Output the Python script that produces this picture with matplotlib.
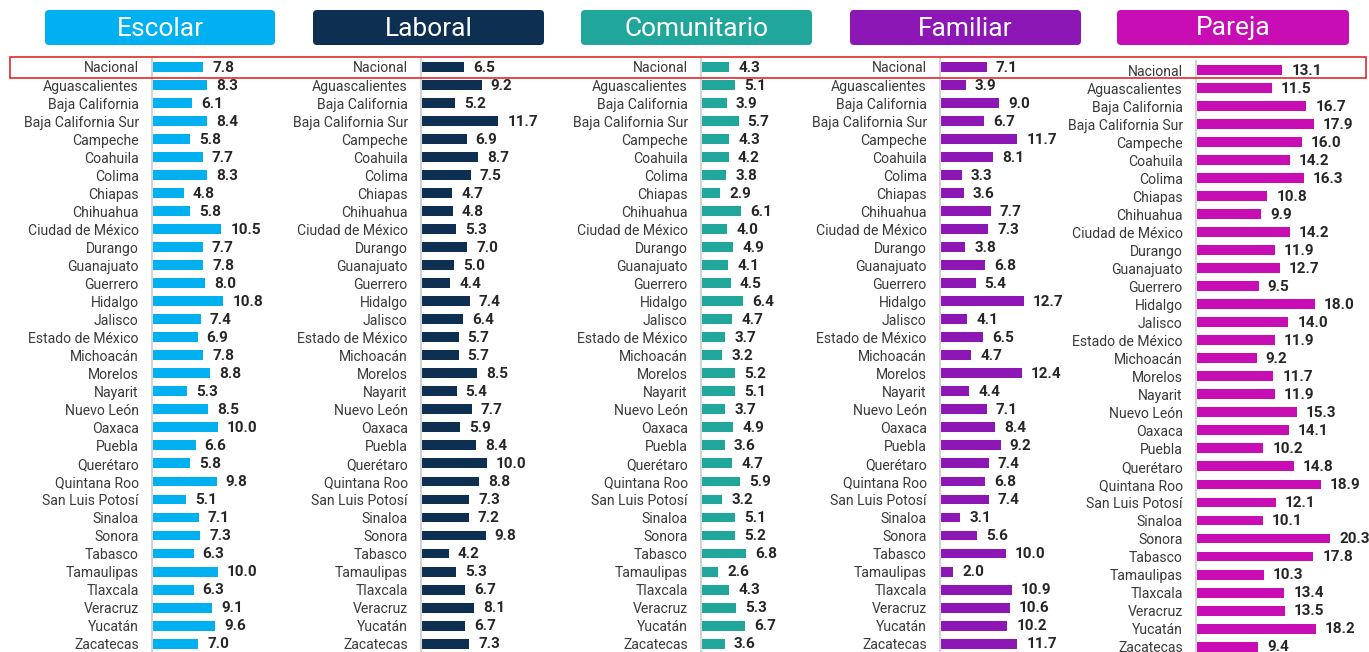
import matplotlib
matplotlib.use("Agg")
import matplotlib.pyplot as plt
from matplotlib.patches import FancyBboxPatch, Rectangle

plt.rcParams['font.family'] = ['Roboto', 'DejaVu Sans']

# --- DATA ---
estados = ["Nacional", "Aguascalientes", "Baja California", "Baja California Sur", "Campeche",
           "Coahuila", "Colima", "Chiapas", "Chihuahua", "Ciudad de México", "Durango",
           "Guanajuato", "Guerrero", "Hidalgo", "Jalisco", "Estado de México", "Michoacán",
           "Morelos", "Nayarit", "Nuevo León", "Oaxaca", "Puebla", "Querétaro", "Quintana Roo",
           "San Luis Potosí", "Sinaloa", "Sonora", "Tabasco", "Tamaulipas", "Tlaxcala",
           "Veracruz", "Yucatán", "Zacatecas"]

escolar = [7.8, 8.3, 6.1, 8.4, 5.8, 7.7, 8.3, 4.8, 5.8, 10.5, 7.7, 7.8, 8.0, 10.8, 7.4, 6.9, 7.8,
           8.8, 5.3, 8.5, 10.0, 6.6, 5.8, 9.8, 5.1, 7.1, 7.3, 6.3, 10.0, 6.3, 9.1, 9.6, 7.0]
laboral = [6.5, 9.2, 5.2, 11.7, 6.9, 8.7, 7.5, 4.7, 4.8, 5.3, 7.0, 5.0, 4.4, 7.4, 6.4, 5.7, 5.7,
           8.5, 5.4, 7.7, 5.9, 8.4, 10.0, 8.8, 7.3, 7.2, 9.8, 4.2, 5.3, 6.7, 8.1, 6.7, 7.3]
comunitario = [4.3, 5.1, 3.9, 5.7, 4.3, 4.2, 3.8, 2.9, 6.1, 4.0, 4.9, 4.1, 4.5, 6.4, 4.7, 3.7, 3.2,
               5.2, 5.1, 3.7, 4.9, 3.6, 4.7, 5.9, 3.2, 5.1, 5.2, 6.8, 2.6, 4.3, 5.3, 6.7, 3.6]
familiar = [7.1, 3.9, 9.0, 6.7, 11.7, 8.1, 3.3, 3.6, 7.7, 7.3, 3.8, 6.8, 5.4, 12.7, 4.1, 6.5, 4.7,
            12.4, 4.4, 7.1, 8.4, 9.2, 7.4, 6.8, 7.4, 3.1, 5.6, 10.0, 2.0, 10.9, 10.6, 10.2, 11.7]
pareja = [13.1, 11.5, 16.7, 17.9, 16.0, 14.2, 16.3, 10.8, 9.9, 14.2, 11.9, 12.7, 9.5, 18.0, 14.0,
          11.9, 9.2, 11.7, 11.9, 15.3, 14.1, 10.2, 14.8, 18.9, 12.1, 10.1, 20.3, 17.8, 10.3, 13.4,
          13.5, 18.2, 9.4]

ambitos = ["Escolar", "Laboral", "Comunitario", "Familiar", "Pareja"]
series = [escolar, laboral, comunitario, familiar, pareja]

# --- LAYOUT (pixels) ---
W, H = 1369, 652
colores = ["#00B0F0", "#0C2F52", "#21A69C", "#8C17B5", "#C70DB3"]
header_x = [(45, 275), (313, 544), (581, 812), (850, 1081), (1117, 1349)]
axis_x = [152, 421, 701, 940, 1196]
first_row = [67, 67, 67, 67, 70]
row_step = 18.02
px_per_unit = 6.6
ax_w = 150

fig = plt.figure(figsize=(W / 100, H / 100), dpi=100)
fig.patch.set_facecolor("white")

n = len(estados)
for i, (nombre, vals) in enumerate(zip(ambitos, series)):
    # header box
    x0, x1 = header_x[i]
    box = FancyBboxPatch(((x0 + 4) / 100, (H - 45 + 4) / 100), (x1 - x0 - 8) / 100, (35 - 8) / 100,
                         boxstyle="round,pad=0.04", transform=fig.dpi_scale_trans,
                         facecolor=colores[i], edgecolor="none")
    fig.patches.append(box)
    fig.text((x0 + x1) / 2 / W, 1 - 28.5 / H, nombre, color="white", fontsize=19,
             ha="center", va="center")

    # bar axes
    top = first_row[i] - row_step / 2
    bottom = first_row[i] + row_step * (n - 1) + row_step / 2
    ax = fig.add_axes([axis_x[i] / W, 1 - bottom / H, ax_w / W, (bottom - top) / H])
    ax.barh(range(n), vals, height=0.55, color=colores[i])
    ax.set_xlim(0, ax_w / px_per_unit)
    ax.set_ylim(n - 0.5, -0.5)
    ax.set_yticks(range(n))
    ax.set_yticklabels(estados, fontsize=10.1, color="#3A3A3A")
    ax.tick_params(axis="y", length=0, pad=9.5)
    ax.set_xticks([])
    for s in ["top", "right", "bottom"]:
        ax.spines[s].set_visible(False)
    ax.spines["left"].set_color("#D4D4D4")
    ax.spines["left"].set_linewidth(1.5)
    ax.patch.set_alpha(0)
    for j, v in enumerate(vals):
        ax.annotate(f"{v:.1f}", (v, j), xytext=(6.5, -0.5), textcoords="offset points",
                    ha="left", va="center", fontsize=11, fontweight="bold", color="#262626",
                    annotation_clip=False)

# highlight Nacional row
fig.patches.append(Rectangle((10 / 100, (H - 78) / 100), (1366 - 10) / 100, 21 / 100,
                             transform=fig.dpi_scale_trans, facecolor="none",
                             edgecolor="#E02B2B", linewidth=1.2, zorder=10))

fig.savefig("out.png", dpi=100)
